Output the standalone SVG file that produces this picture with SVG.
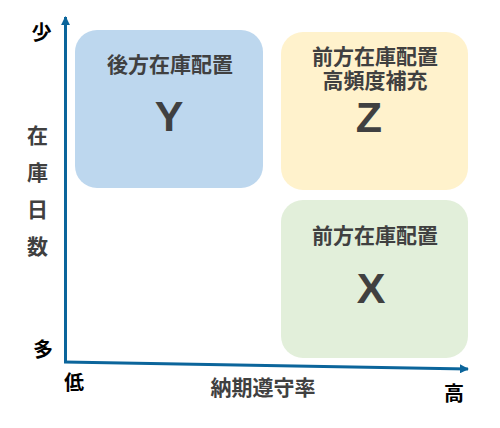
<svg xmlns="http://www.w3.org/2000/svg" width="500" height="428" viewBox="0 0 500 428">
<style>
.t{font-family:"Noto Sans CJK JP","Liberation Sans",sans-serif;font-weight:bold;fill:#404040;text-anchor:middle;font-size:21px}
.ax{font-family:"Noto Sans CJK JP","Liberation Sans",sans-serif;font-weight:bold;fill:#000;text-anchor:middle;font-size:20px}
.big{font-family:"Liberation Sans","Noto Sans",sans-serif;font-weight:bold;fill:#404040;text-anchor:middle;font-size:43px}
</style>
<defs>
<marker id="ah" viewBox="0 0 10 10" refX="9" refY="5" markerWidth="3" markerHeight="3" orient="auto" markerUnits="strokeWidth">
<path d="M0,0L10,5L0,10z" fill="#0B659B"/>
</marker>
</defs>
<rect width="500" height="428" fill="#fff"/>
<g id="Y">
<rect x="75" y="30" width="188" height="158" rx="22" fill="#BDD7EE"/>
<text class="t" x="170" y="72">後方在庫配置</text>
<text class="big" x="169" y="131">Y</text>
</g>
<g id="Z">
<rect x="281" y="32" width="187" height="158" rx="22" fill="#FFF2CC"/>
<text class="t" x="375" y="63.5">前方在庫配置</text>
<text class="t" x="375" y="88">高頻度補充</text>
<text class="big" x="369" y="132">Z</text>
</g>
<g id="X">
<rect x="281" y="200" width="187" height="158" rx="22" fill="#E2EFDA"/>
<text class="t" x="375" y="243">前方在庫配置</text>
<text class="big" x="371" y="303">X</text>
</g>
<g id="connectors">
<line x1="65.5" y1="363" x2="65.5" y2="17" stroke="#0B659B" stroke-width="3" marker-end="url(#ah)"/>
<line x1="64" y1="362" x2="468" y2="369" stroke="#0B659B" stroke-width="3" marker-end="url(#ah)"/>
</g>
<g id="labels">
<text class="ax" x="41.5" y="40">少</text>
<text class="ax" x="43" y="357">多</text>
<text class="ax" x="74" y="390">低</text>
<text class="ax" x="454" y="401">高</text>
<text class="t" x="263" y="395">納期遵守率</text>
<text class="t" x="37.5" y="143" font-size="20">在</text>
<text class="t" x="37.5" y="180" font-size="20">庫</text>
<text class="t" x="37.5" y="217" font-size="20">日</text>
<text class="t" x="37.5" y="254" font-size="20">数</text>
</g>
</svg>
